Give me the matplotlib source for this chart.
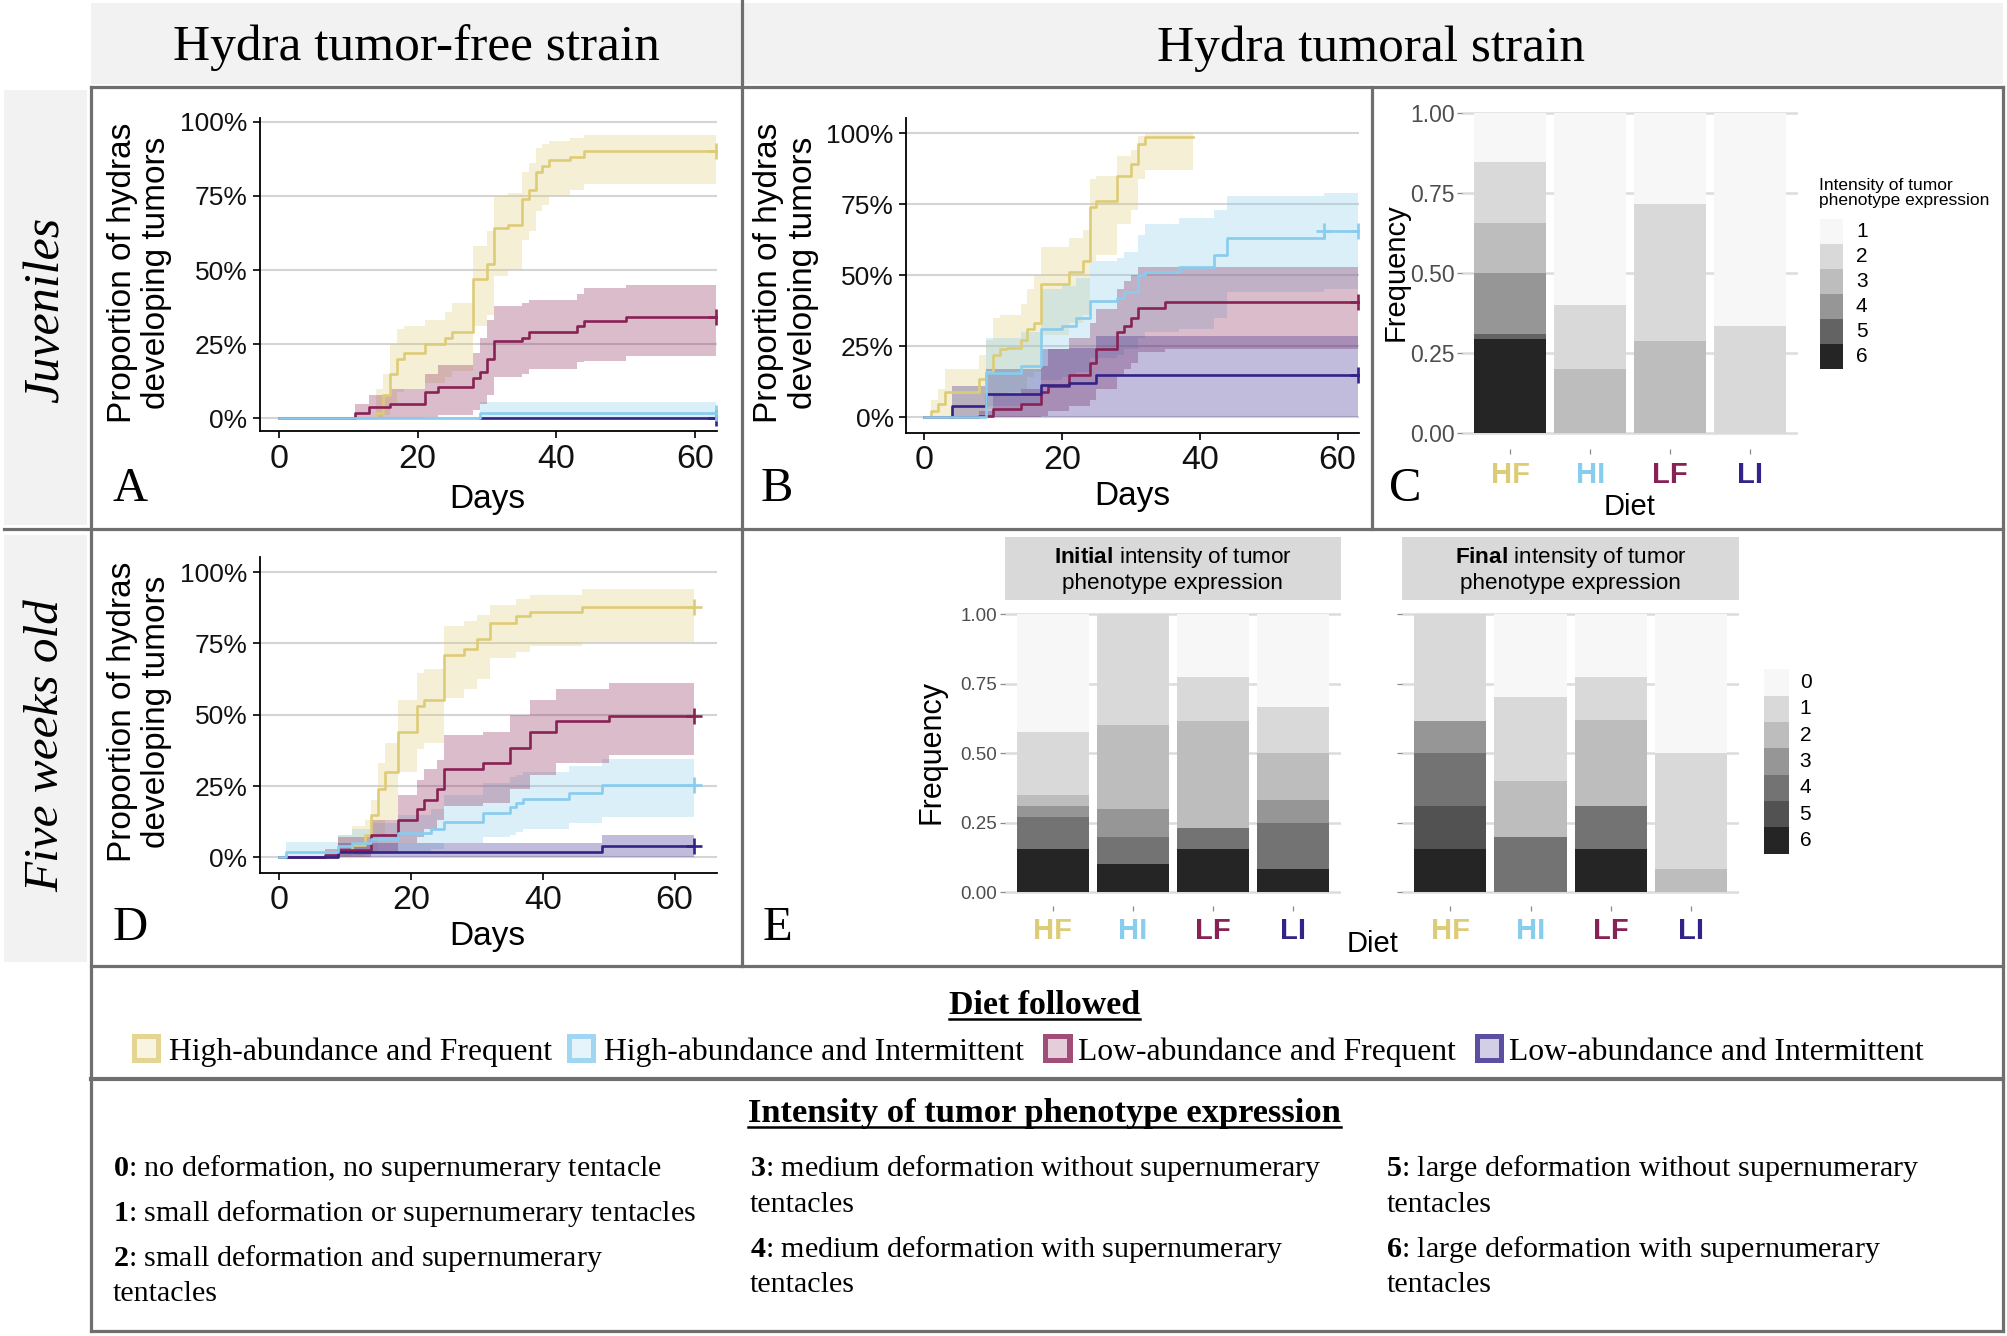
import matplotlib
matplotlib.use('Agg')
import matplotlib.pyplot as plt
from matplotlib.patches import Rectangle
from matplotlib.lines import Line2D
import numpy as np

plt.rcParams['mathtext.fontset'] = 'custom'
plt.rcParams['mathtext.bf'] = 'Liberation Serif:bold'
plt.rcParams['mathtext.sf'] = 'Liberation Sans:bold'
plt.rcParams['mathtext.rm'] = 'Liberation Serif'

SANS = 'Liberation Sans'
SERIF = 'Liberation Serif'

# ------------------------------------------------------------------ data
diets = ['HF', 'HI', 'LF', 'LI']
diet_names = ['High-abundance and Frequent', 'High-abundance and Intermittent',
              'Low-abundance and Frequent', 'Low-abundance and Intermittent']
diet_colors = ['#DDCC77', '#88CCEE', '#882255', '#332288']

y_ticks_pct = [0, 0.25, 0.5, 0.75, 1.0]
y_ticklabels_pct = ['0%', '25%', '50%', '75%', '100%']
x_ticks_days = [0, 20, 40, 60]

# Panel A : tumor-free strain, juveniles (cumulative incidence, CI bands)
A_HF_t = [0, 14, 15, 16, 17, 18, 21, 24, 25, 28, 30, 31, 33, 35, 36, 37, 38, 39, 42, 44, 63]
A_HF_y = [0, 0.02, 0.08, 0.15, 0.20, 0.22, 0.25, 0.27, 0.29, 0.47, 0.52, 0.64, 0.65, 0.74, 0.77, 0.83, 0.85, 0.87, 0.88, 0.90, 0.90]
A_HF_lo = [0, 0, 0.01, 0.05, 0.09, 0.10, 0.12, 0.14, 0.16, 0.31, 0.35, 0.48, 0.50, 0.60, 0.63, 0.70, 0.72, 0.75, 0.77, 0.79, 0.79]
A_HF_hi = [0, 0.10, 0.15, 0.25, 0.30, 0.31, 0.33, 0.36, 0.39, 0.58, 0.63, 0.75, 0.76, 0.83, 0.86, 0.91, 0.925, 0.935, 0.945, 0.955, 0.955]
A_HI_t = [0, 29, 63]
A_HI_y = [0, 0.02, 0.02]
A_HI_lo = [0, 0, 0]
A_HI_hi = [0, 0.055, 0.055]
A_LF_t = [0, 11, 13, 16, 21, 23, 28, 29, 30, 31, 35, 36, 43, 44, 50, 63]
A_LF_y = [0, 0.02, 0.04, 0.05, 0.09, 0.105, 0.135, 0.157, 0.20, 0.26, 0.272, 0.29, 0.31, 0.328, 0.343, 0.343]
A_LF_lo = [0, 0, 0, 0, 0.005, 0.01, 0.03, 0.05, 0.08, 0.14, 0.15, 0.165, 0.19, 0.195, 0.21, 0.21]
A_LF_hi = [0, 0.05, 0.08, 0.10, 0.15, 0.18, 0.22, 0.27, 0.33, 0.38, 0.39, 0.40, 0.42, 0.44, 0.45, 0.45]
A_LI_t = [29, 63]
A_LI_y = [0, 0]
A_LI_lo = [0, 0]
A_LI_hi = [0, 0]
A_censor = [[63], [63], [63], [63]]

# Panel B : tumoral strain, juveniles
B_HF_t = [0, 1, 2, 3, 8, 9, 10, 11, 12, 14, 15, 16, 17, 21, 23, 24, 25, 28, 30, 31, 32, 39]
B_HF_y = [0, 0.02, 0.045, 0.09, 0.135, 0.16, 0.22, 0.24, 0.245, 0.27, 0.31, 0.33, 0.47, 0.51, 0.55, 0.74, 0.76, 0.85, 0.89, 0.96, 0.985, 0.985]
B_HF_lo = [0, 0, 0, 0, 0.01, 0.03, 0.07, 0.08, 0.09, 0.10, 0.14, 0.16, 0.29, 0.33, 0.36, 0.55, 0.57, 0.68, 0.73, 0.84, 0.87, 0.87]
B_HF_hi = [0, 0.06, 0.10, 0.17, 0.22, 0.27, 0.35, 0.36, 0.36, 0.40, 0.45, 0.50, 0.60, 0.63, 0.66, 0.84, 0.85, 0.92, 0.94, 0.99, 1.0, 1.0]
B_HI_t = [0, 9, 14, 17, 20, 22, 24, 28, 29, 31, 32, 37, 42, 44, 58, 63]
B_HI_y = [0, 0.155, 0.18, 0.31, 0.32, 0.35, 0.41, 0.42, 0.44, 0.50, 0.51, 0.53, 0.57, 0.63, 0.655, 0.655]
B_HI_lo = [0, 0.04, 0.05, 0.13, 0.14, 0.16, 0.21, 0.22, 0.24, 0.28, 0.30, 0.31, 0.35, 0.44, 0.45, 0.45]
B_HI_hi = [0, 0.28, 0.30, 0.45, 0.46, 0.49, 0.55, 0.56, 0.58, 0.64, 0.68, 0.70, 0.73, 0.78, 0.79, 0.79]
B_LF_t = [0, 8, 10, 14, 17, 18, 21, 24, 25, 28, 29, 30, 31, 35, 63]
B_LF_y = [0, 0.005, 0.03, 0.045, 0.09, 0.11, 0.15, 0.19, 0.24, 0.30, 0.32, 0.35, 0.385, 0.405, 0.405]
B_LF_lo = [0, 0, 0, 0, 0.005, 0.02, 0.04, 0.06, 0.10, 0.15, 0.17, 0.19, 0.23, 0.24, 0.24]
B_LF_hi = [0, 0.02, 0.08, 0.10, 0.18, 0.24, 0.28, 0.33, 0.38, 0.45, 0.48, 0.50, 0.53, 0.53, 0.53]
B_LI_t = [4, 4, 9, 17, 21, 25, 63]
B_LI_y = [0, 0.04, 0.08, 0.115, 0.12, 0.15, 0.15]
B_LI_lo = [0, 0, 0, 0, 0, 0, 0]
B_LI_hi = [0, 0.11, 0.17, 0.24, 0.245, 0.285, 0.285]
B_censor = [[], [58, 63], [63], [63]]

# Panel D : tumor-free strain, five weeks old
D_HF_t = [0, 9, 11, 13, 14, 15, 16, 18, 21, 22, 25, 28, 30, 32, 36, 38, 46, 63]
D_HF_y = [0, 0.02, 0.045, 0.08, 0.15, 0.24, 0.30, 0.44, 0.53, 0.55, 0.71, 0.73, 0.765, 0.82, 0.845, 0.86, 0.877, 0.877]
D_HF_lo = [0, 0, 0, 0.01, 0.02, 0.08, 0.13, 0.30, 0.38, 0.40, 0.56, 0.59, 0.625, 0.70, 0.72, 0.74, 0.755, 0.755]
D_HF_hi = [0, 0.08, 0.11, 0.13, 0.20, 0.33, 0.40, 0.55, 0.645, 0.66, 0.81, 0.83, 0.85, 0.885, 0.905, 0.92, 0.94, 0.94]
D_HI_t = [0, 1, 9, 11, 14, 18, 23, 25, 31, 35, 36, 37, 44, 49, 63]
D_HI_y = [0, 0.02, 0.04, 0.05, 0.065, 0.085, 0.10, 0.125, 0.155, 0.175, 0.19, 0.205, 0.225, 0.255, 0.255]
D_HI_lo = [0, 0, 0.005, 0.01, 0.015, 0.02, 0.03, 0.05, 0.07, 0.08, 0.09, 0.10, 0.12, 0.14, 0.14]
D_HI_hi = [0, 0.055, 0.08, 0.10, 0.12, 0.15, 0.17, 0.22, 0.26, 0.28, 0.29, 0.30, 0.32, 0.345, 0.345]
D_LF_t = [0, 7, 9, 14, 18, 21, 22, 24, 25, 31, 35, 38, 42, 50, 63]
D_LF_y = [0, 0.007, 0.025, 0.08, 0.13, 0.17, 0.20, 0.24, 0.31, 0.33, 0.385, 0.44, 0.477, 0.497, 0.497]
D_LF_lo = [0, 0, 0, 0.02, 0.05, 0.07, 0.10, 0.13, 0.18, 0.19, 0.24, 0.29, 0.33, 0.36, 0.36]
D_LF_hi = [0, 0.03, 0.07, 0.13, 0.22, 0.27, 0.31, 0.34, 0.43, 0.44, 0.50, 0.55, 0.59, 0.61, 0.61]
D_LI_t = [1, 9, 49, 63]
D_LI_y = [0, 0.02, 0.04, 0.04]
D_LI_lo = [0, 0, 0, 0]
D_LI_hi = [0, 0.05, 0.08, 0.08]
D_censor = [[63], [63], [63], [63]]

# Panel C : tumor intensity frequencies (levels 1..6), tumoral strain juveniles
C_levels = ['1', '2', '3', '4', '5', '6']
C_colors = ['#F7F7F7', '#D9D9D9', '#BDBDBD', '#969696', '#636363', '#252525']
C_HF = [0.154, 0.192, 0.154, 0.192, 0.015, 0.293]
C_HI = [0.60, 0.20, 0.20, 0, 0, 0]
C_LF = [0.286, 0.428, 0.286, 0, 0, 0]
C_LI = [0.667, 0.333, 0, 0, 0, 0]

# Panel E : initial / final intensity frequencies (levels 0..6)
E_levels = ['0', '1', '2', '3', '4', '5', '6']
E_colors = ['#F7F7F7', '#D9D9D9', '#BDBDBD', '#969696', '#737373', '#525252', '#252525']
E_init_HF = [0.425, 0.225, 0.04, 0.04, 0.115, 0, 0.155]
E_init_HI = [0, 0.40, 0.30, 0.10, 0.10, 0, 0.10]
E_init_LF = [0.228, 0.155, 0.385, 0, 0.077, 0, 0.155]
E_init_LI = [0.333, 0.167, 0.167, 0.083, 0.167, 0, 0.083]
E_fin_HF = [0, 0.385, 0, 0.115, 0.19, 0.155, 0.155]
E_fin_HI = [0.30, 0.30, 0.20, 0, 0.20, 0, 0]
E_fin_LF = [0.225, 0.155, 0.31, 0, 0.155, 0, 0.155]
E_fin_LI = [0.50, 0.417, 0.083, 0, 0, 0, 0]

intensity_desc = [
    ['0', ': no deformation, no supernumerary tentacle'],
    ['1', ': small deformation or supernumerary tentacles'],
    ['2', ': small deformation and supernumerary\ntentacles'],
    ['3', ': medium deformation without supernumerary\ntentacles'],
    ['4', ': medium deformation with supernumerary\ntentacles'],
    ['5', ': large deformation without supernumerary\ntentacles'],
    ['6', ': large deformation with supernumerary\ntentacles'],
]

# ------------------------------------------------------------------ layout helpers
fig = plt.figure(figsize=(20.07, 13.36), dpi=100)
W, H = 1568.0, 1044.0


def FX(x):
    return x / W


def FY(y):
    return 1 - y / H


def box(x0, y0, x1, y1, color, z=-5):
    fig.add_artist(Rectangle((FX(x0), FY(y1)), FX(x1) - FX(x0), FY(y0) - FY(y1),
                             transform=fig.transFigure, facecolor=color,
                             edgecolor='none', zorder=z))


def line(xs, ys, color='#6f6f6f', lw=2.3, z=5):
    fig.add_artist(Line2D([FX(v) for v in xs], [FY(v) for v in ys],
                          transform=fig.transFigure, color=color, lw=lw,
                          solid_capstyle='projecting', zorder=z))


def axes_px(x0, ytop, x1, ybot):
    return fig.add_axes([FX(x0), FY(ybot), FX(x1) - FX(x0), FY(ytop) - FY(ybot)])


def lim(p0, v0, p1, v1, a, b):
    k = (v1 - v0) / (p1 - p0)
    return (v0 + (a - p0) * k, v0 + (b - p0) * k)


def mix(c, f):
    r, g, b = matplotlib.colors.to_rgb(c)
    return (1 - f + f * r, 1 - f + f * g, 1 - f + f * b)


def ftext(x, y, s, **kw):
    return fig.text(FX(x), FY(y), s, **kw)


# ------------------------------------------------------------------ backgrounds & frame
box(71, 2, 1565, 66, '#F2F2F2')
box(3, 70, 68, 410, '#F2F2F2')
box(3, 418, 68, 752, '#F2F2F2')

ftext(325, 37, 'Hydra tumor-free strain', fontsize=37, family=SERIF, ha='center', va='center')
ftext(1071, 38, 'Hydra tumoral strain', fontsize=37, family=SERIF, ha='center', va='center')
ftext(36, 242, 'Juveniles', fontsize=36, family=SERIF, style='italic', rotation=90,
      ha='center', va='center')
ftext(36, 583, 'Five weeks old', fontsize=35.5, family=SERIF, style='italic', rotation=90,
      ha='center', va='center')

line([71, 71], [68, 1040])
line([580, 580], [1, 755])
line([1072, 1072], [68, 413])
line([1565, 1565], [68, 1040])
line([71, 1565], [68, 68])
line([3, 1565], [413, 413])
line([71, 1565], [755, 755])
line([71, 1565], [843, 843], lw=3.0)
line([71, 1565], [1040, 1040])

# order in which the step lines are drawn (HI last, as in the reference)
line_order = [0, 2, 3, 1]


# ------------------------------------------------------------------ KM panels
def km_panel(x0, x1, ytop, ybot, xz, x60, y0p, y1p, series, censors, label_x, ylab_x,
             ylab_y, days_y, letter, letter_xy):
    ax = axes_px(x0, ytop, x1, ybot)
    ax.set_facecolor('none')
    ax.set_xlim(*lim(xz, 0, x60, 60, x0, x1))
    ax.set_ylim(*lim(y0p, 0, y1p, 1, ybot, ytop))
    for v in y_ticks_pct:
        ax.axhline(v, color='#d4d4d4', lw=1.5, zorder=0)
    for (t, y, lo, hi), c in zip(series, diet_colors):
        ax.fill_between(t, lo, hi, step='post', color=c, alpha=0.3, lw=0, zorder=1)
    for k in line_order:
        t, y, lo, hi = series[k]
        c = diet_colors[k]
        ax.step(t, y, where='post', color=c, lw=1.9, zorder=3)
        for ct in censors[k]:
            idx = max(i for i, tv in enumerate(t) if tv <= ct)
            ax.plot([ct], [y[idx]], '+', ms=11, mew=1.9, color=c, zorder=4)
    for s in ['top', 'right']:
        ax.spines[s].set_visible(False)
    for s in ['left', 'bottom']:
        ax.spines[s].set_linewidth(1.3)
        ax.spines[s].set_color('black')
    ax.set_xticks(x_ticks_days)
    ax.set_xticklabels([str(v) for v in x_ticks_days], fontsize=24.5, family=SANS)
    ax.set_yticks(y_ticks_pct)
    ax.set_yticklabels(y_ticklabels_pct, fontsize=19, family=SANS)
    ax.tick_params(axis='both', length=5, width=1.2, color='black', labelcolor='#111111')
    ax.tick_params(axis='x', pad=4)
    ax.tick_params(axis='y', pad=4)
    ftext(label_x, days_y, 'Days', fontsize=24, family=SANS, ha='center', va='center')
    ftext(ylab_x, ylab_y, 'Proportion of hydras\ndeveloping tumors', fontsize=24,
          family=SANS, rotation=90, ha='center', va='center', linespacing=1.15)
    ftext(letter_xy[0], letter_xy[1], letter, fontsize=35, family=SERIF, ha='center',
          va='center')
    return ax


A_series = [(A_HF_t, A_HF_y, A_HF_lo, A_HF_hi), (A_HI_t, A_HI_y, A_HI_lo, A_HI_hi),
            (A_LF_t, A_LF_y, A_LF_lo, A_LF_hi), (A_LI_t, A_LI_y, A_LI_lo, A_LI_hi)]
B_series = [(B_HF_t, B_HF_y, B_HF_lo, B_HF_hi), (B_HI_t, B_HI_y, B_HI_lo, B_HI_hi),
            (B_LF_t, B_LF_y, B_LF_lo, B_LF_hi), (B_LI_t, B_LI_y, B_LI_lo, B_LI_hi)]
D_series = [(D_HF_t, D_HF_y, D_HF_lo, D_HF_hi), (D_HI_t, D_HI_y, D_HI_lo, D_HI_hi),
            (D_LF_t, D_LF_y, D_LF_lo, D_LF_hi), (D_LI_t, D_LI_y, D_LI_lo, D_LI_hi)]

km_panel(203, 560, 92, 337, 218, 543, 327, 95, A_series, A_censor,
         381, 109, 213, 390, 'A', (102, 382))
km_panel(708, 1062, 92, 338, 722, 1045, 326, 104, B_series, B_censor,
         885, 614, 213, 388, 'B', (607, 382))
km_panel(203, 560, 435, 682, 218, 527, 670, 447, D_series, D_censor,
         381, 109, 556, 732, 'D', (102, 725))


# ------------------------------------------------------------------ bar panels
def stacked(ax, data, colors):
    for xi, vals in enumerate(data):
        bottom = 0.0
        for k in range(len(vals) - 1, -1, -1):
            if vals[k] > 0:
                ax.bar(xi, vals[k], bottom=bottom, width=0.9, color=colors[k], lw=0,
                       zorder=2)
                bottom += vals[k]


def bar_style(ax, show_y, ytick_size):
    ax.set_xlim(-0.6, 3.6)
    ax.set_ylim(-0.05, 1.05)
    for s in ax.spines.values():
        s.set_visible(False)
    ax.set_yticks([0, 0.25, 0.5, 0.75, 1.0])
    for v in [0, 0.25, 0.5, 0.75, 1.0]:
        ax.axhline(v, color='#dcdcdc', lw=1.8, zorder=0)
    if show_y:
        ax.set_yticklabels(['0.00', '0.25', '0.50', '0.75', '1.00'], fontsize=ytick_size,
                           family=SANS, color='#4d4d4d')
    else:
        ax.set_yticklabels([])
        ax.tick_params(axis='y', length=0)
    ax.set_xticks(range(4))
    ax.set_xticklabels(diets, fontsize=21, family=SANS, fontweight='bold')
    for lab, c in zip(ax.get_xticklabels(), diet_colors):
        lab.set_color(c)
    ax.tick_params(axis='both', length=3.5, width=0.9, color='#8a8a8a')
    ax.tick_params(axis='x', pad=5.5)
    ax.tick_params(axis='y', pad=2)


axC = axes_px(1142.6, 75.5, 1404.4, 350.5)
stacked(axC, [C_HF, C_HI, C_LF, C_LI], C_colors)
bar_style(axC, True, 16.5)
ftext(1090, 213, 'Frequency', fontsize=21, family=SANS, rotation=90, ha='center', va='center')
ftext(1273, 396, 'Diet', fontsize=21, family=SANS, ha='center', va='center')
ftext(1098, 382, 'C', fontsize=35, family=SERIF, ha='center', va='center')
ftext(1421, 139, 'Intensity of tumor\nphenotype expression', fontsize=12.5, family=SANS,
      ha='left', va='top', linespacing=1.05)
for i, (lev, col) in enumerate(zip(C_levels, C_colors)):
    y0 = 171 + i * 19.5
    box(1422, y0, 1440, y0 + 19.5, col, z=3)
    ftext(1450, y0 + 9.75, lev, fontsize=15, family=SANS, ha='left', va='center')

axE1 = axes_px(785, 469, 1047.5, 708)
stacked(axE1, [E_init_HF, E_init_HI, E_init_LF, E_init_LI], E_colors)
bar_style(axE1, True, 13.5)
axE2 = axes_px(1095.3, 469, 1359, 708)
stacked(axE2, [E_fin_HF, E_fin_HI, E_fin_LF, E_fin_LI], E_colors)
bar_style(axE2, False, 13.5)
axE1.tick_params(axis='x', pad=4.5)
axE2.tick_params(axis='x', pad=4.5)
box(785, 420, 1047.5, 469, '#D9D9D9', z=3)
box(1095.3, 420, 1359, 469, '#D9D9D9', z=3)
ftext(916, 445, '$\\mathsf{Initial}$ intensity of tumor\nphenotype expression', fontsize=16.2,
      family=SANS, ha='center', va='center', linespacing=1.2, zorder=6)
ftext(1227, 445, '$\\mathsf{Final}$ intensity of tumor\nphenotype expression', fontsize=16.2,
      family=SANS, ha='center', va='center', linespacing=1.2, zorder=6)
ftext(728, 588, 'Frequency', fontsize=22, family=SANS, rotation=90, ha='center', va='center')
ftext(1072, 738, 'Diet', fontsize=21, family=SANS, ha='center', va='center')
ftext(607, 725, 'E', fontsize=35, family=SERIF, ha='center', va='center')
for i, (lev, col) in enumerate(zip(E_levels, E_colors)):
    y0 = 523 + i * 20.6
    box(1378, y0, 1398, y0 + 20.6, col, z=3)
    ftext(1406, y0 + 10.3, lev, fontsize=15, family=SANS, ha='left', va='center')

# ------------------------------------------------------------------ bottom legends
renderer = fig.canvas.get_renderer()


def underlined(x, y_base, s, y_line, size):
    t = ftext(x, y_base, s, fontsize=size, family=SERIF, fontweight='bold',
              ha='center', va='baseline')
    bb = t.get_window_extent(renderer).transformed(fig.transFigure.inverted())
    fig.add_artist(Line2D([bb.x0, bb.x1], [FY(y_line), FY(y_line)], transform=fig.transFigure,
                          color='black', lw=1.8))


underlined(816, 792, 'Diet followed', 796, 24.5)
sq_x = [103, 443, 815, 1152]
txt_x = [132, 472, 842, 1179]
for sx, tx, name, col in zip(sq_x, txt_x, diet_names, diet_colors):
    box(sx, 808, sx + 23, 831, mix(col, 0.8), z=3)
    box(sx + 4, 812, sx + 19, 827, mix(col, 0.22), z=4)
    ftext(tx, 828, name, fontsize=22.8, family=SERIF, ha='left', va='baseline')

underlined(816, 877, 'Intensity of tumor phenotype expression', 881, 24.8)
col_x = [88, 586, 1083]
pos = [(0, 919), (0, 954), (0, 989), (1, 919), (1, 982), (2, 919), (2, 982)]
for (num, desc), (ci, yb) in zip(intensity_desc, pos):
    lines_ = desc.split('\n')
    ftext(col_x[ci], yb, '$\\mathbf{' + num + '}$' + lines_[0], fontsize=21.6, family=SERIF,
          ha='left', va='baseline')
    if len(lines_) > 1:
        ftext(col_x[ci], yb + 28, lines_[1], fontsize=21.6, family=SERIF, ha='left',
              va='baseline')

fig.savefig('out.png', dpi=100)
